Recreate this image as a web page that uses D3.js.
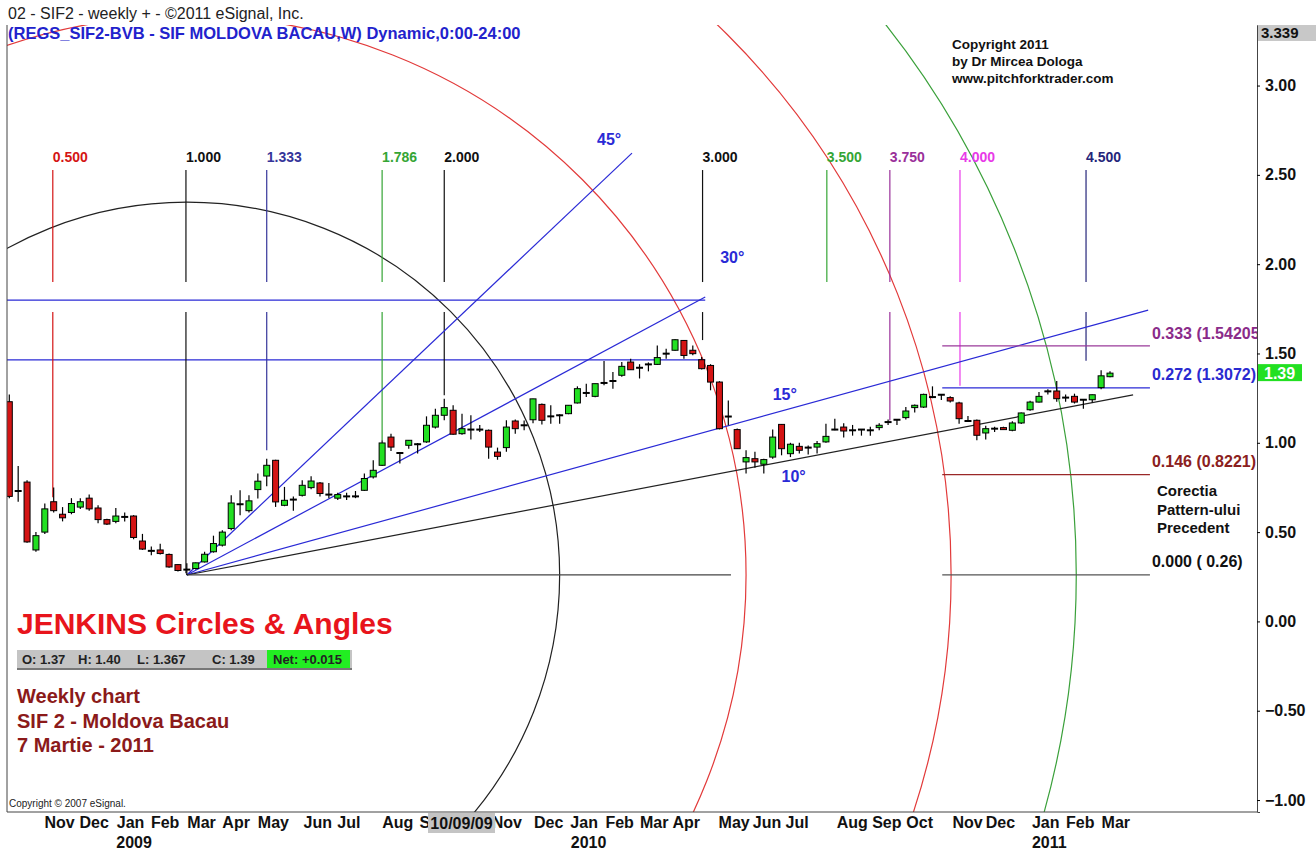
<!DOCTYPE html>
<html>
<head>
<meta charset="utf-8">
<script src="https://d3js.org/d3.v7.min.js"></script>
<style>
  body { margin: 0; background: #fff; }
  svg text { font-family: "Liberation Sans", Arial, sans-serif; }
</style>
</head>
<body>
<svg id="chart" width="1316" height="852"></svg>
<script>
// weekly candles, Sep 2008 .. 7 Mar 2011
const opens  = [1.23,0.73,0.78,0.40,0.50,0.67,0.60,0.61,0.64,0.69,0.635,0.57,0.56,0.585,0.59,0.45,0.395,0.40,0.375,0.318,
                0.29,0.296,0.333,0.39,0.427,0.52,0.656,0.62,0.738,0.814,0.902,0.65,0.682,0.706,0.749,0.775,0.71,0.69,0.70,0.70,
                0.734,0.809,0.874,1.032,0.943,0.986,0.992,1.005,1.088,1.154,1.182,1.051,1.074,1.074,1.07,0.948,0.973,1.122,1.098,1.129,
                1.215,1.148,1.154,1.163,1.223,1.279,1.26,1.335,1.346,1.378,1.452,1.42,1.439,1.439,1.499,1.518,1.573,1.518,1.465,1.433,
                1.34,1.147,1.074,0.893,0.911,0.88,0.92,1.103,0.939,0.98,0.973,0.976,1.005,1.074,1.088,1.07,1.074,1.07,1.085,1.116,
                1.129,1.141,1.197,1.20,1.256,1.269,1.253,1.223,1.122,1.126,1.055,1.079,1.085,1.07,1.111,1.185,1.228,1.288,1.29,1.253,
                1.26,1.241,1.241,1.309,1.37];
const highs  = [1.27,0.87,0.79,0.50,0.66,0.75,0.64,0.69,0.69,0.71,0.65,0.575,0.635,0.61,0.595,0.49,0.42,0.435,0.38,0.32,
                0.325,0.33,0.39,0.48,0.51,0.706,0.734,0.706,0.828,0.911,0.905,0.753,0.70,0.79,0.813,0.78,0.775,0.72,0.72,0.73,
                0.828,0.902,1.014,1.051,0.948,1.014,0.999,1.148,1.191,1.247,1.21,1.163,1.154,1.10,1.075,0.973,1.126,1.13,1.125,1.246,
                1.22,1.21,1.16,1.21,1.316,1.331,1.331,1.458,1.396,1.452,1.471,1.44,1.45,1.545,1.527,1.58,1.575,1.545,1.48,1.44,
                1.345,1.237,1.08,0.958,0.95,0.91,1.074,1.105,1.00,1.00,0.985,1.01,1.107,1.135,1.11,1.10,1.075,1.09,1.11,1.13,
                1.13,1.20,1.215,1.275,1.316,1.27,1.26,1.23,1.15,1.13,1.095,1.09,1.09,1.12,1.17,1.235,1.285,1.30,1.346,1.27,
                1.275,1.245,1.27,1.406,1.40];
const lows   = [0.69,0.67,0.44,0.39,0.49,0.61,0.56,0.60,0.63,0.62,0.55,0.54,0.55,0.56,0.46,0.40,0.37,0.375,0.30,0.28,
                0.26,0.29,0.33,0.385,0.42,0.51,0.594,0.61,0.688,0.757,0.641,0.645,0.62,0.70,0.74,0.70,0.69,0.68,0.68,0.69,
                0.73,0.80,0.87,0.954,0.884,0.967,0.94,1.00,1.08,1.126,1.045,1.045,1.018,1.06,0.911,0.905,0.95,1.05,1.07,1.11,
                1.103,1.107,1.107,1.16,1.22,1.256,1.255,1.322,1.303,1.37,1.409,1.36,1.40,1.435,1.471,1.515,1.471,1.49,1.41,1.294,
                1.075,1.098,0.967,0.828,0.86,0.828,0.91,0.93,0.92,0.94,0.935,0.94,1.00,1.07,1.03,1.04,1.04,1.04,1.07,1.10,
                1.10,1.13,1.17,1.195,1.25,1.24,1.225,1.107,1.12,1.014,1.018,1.06,1.075,1.065,1.105,1.18,1.225,1.27,1.23,1.23,
                1.22,1.19,1.225,1.30,1.367];
const closes = [0.70,0.73,0.445,0.48,0.63,0.62,0.58,0.66,0.67,0.63,0.57,0.545,0.59,0.585,0.47,0.405,0.395,0.38,0.305,0.285,
                0.29,0.328,0.376,0.436,0.50,0.663,0.656,0.675,0.785,0.874,0.669,0.678,0.682,0.762,0.786,0.716,0.71,0.71,0.70,0.70,
                0.80,0.846,0.999,0.976,0.943,1.014,0.992,1.098,1.154,1.197,1.048,1.079,1.074,1.074,0.976,0.924,1.088,1.079,1.098,1.246,
                1.126,1.148,1.154,1.21,1.303,1.279,1.331,1.335,1.346,1.428,1.409,1.42,1.439,1.477,1.499,1.577,1.489,1.499,1.415,1.34,
                1.079,1.147,0.967,0.917,0.893,0.906,1.032,0.967,0.992,0.958,0.973,0.995,1.036,1.074,1.066,1.07,1.074,1.07,1.098,1.116,
                1.129,1.178,1.21,1.271,1.256,1.269,1.234,1.135,1.122,1.042,1.079,1.079,1.08,1.111,1.167,1.228,1.26,1.288,1.247,1.253,
                1.228,1.241,1.269,1.375,1.39];

// x axis labels (week index of each label); Oct 2009 sits under the cursor box
const monthLabels = ["Nov","Dec","Jan","Feb","Mar","Apr","May","Jun","Jul","Aug","Sep","Nov","Dec","Jan","Feb","Mar","Apr",
                     "May","Jun","Jul","Aug","Sep","Oct","Nov","Dec","Jan","Feb","Mar"];
const monthWeeks  = [5.6,9.5,13.6,17.5,21.6,25.5,29.7,34.7,38.2,43.7,47.8,56.0,60.7,64.7,68.7,72.6,76.2,
                     81.6,85.3,88.7,94.9,98.8,102.5,107.9,111.6,116.7,120.6,124.6];
const yearLabels = ["2009","2010","2011"];
const yearWeeks  = [14.0,65.2,117.1];
const priceTicks = [3.0,2.5,2.0,1.5,1.0,0.5,0.0,-0.5,-1.0];

// Jenkins time cycles
const cycleLabels = ["0.500","1.000","1.333","1.786","2.000","3.000","3.500","3.750","4.000","4.500"];
const cycleWeeks  = [4.9,19.9,29.0,42.0,49.0,78.1,92.1,99.2,107.1,121.3];
const cycleBottom = [0.695,0.27,0.958,1.014,1.266,1.575,1.90,1.125,1.32,1.46];
const cycleTop = 2.527;

// angles from the Mar 2009 low
const pivotWeek = 20, pivotPrice = 0.26;
const angleLabels = ["45°","30°","15°","10°"];
const angleEndWeek  = [70.15,78.4,128.3,126.6];
const angleEndPrice = [2.622,1.816,1.743,1.268];
const baseEndWeek = 81.3;

// circles (radius in weeks)
const circleRadius = [42,63,86.1,100.2];

// horizontal lines
const hLinePrices = [1.799,1.464];
const hLineEndWeek = 78.4;
const levelLabels = ["0.333 (1.54205","0.272 (1.3072)","0.146 (0.8221)","0.000 ( 0.26)"];
const levelPrices = [1.54205,1.3072,0.8221,0.26];
const levelFrom = 105.1, levelTo = 128.5;

// ---------------------------------------------------------------
const svg = d3.select('#chart');
const plotL = 7, plotR = 1257, plotT = 25, plotB = 812;

const x = d3.scaleLinear().domain([0, opens.length - 1]).range([9.3, 1110]);
const y = d3.scaleLinear().domain([-1.067, 3.339]).range([plotB, plotT]);

const green = '#22e022', red = '#d41414', blue = '#2a2ad6';
const cycleColors = [red,'#111','#35359a','#35a535','#111','#111','#35a535','#9a309a','#e83ae8','#25257a'];
const circleColors = ['#222', '#e23a3a', '#e23a3a', '#3aa03a'];
const levelColors = ['#9a3a9a', '#2a2ad6', '#9a2828', '#555'];
const levelTextColors = ['#8a2b8a', '#2a2ad0', '#8b2020', '#111'];

svg.append('defs').append('clipPath').attr('id', 'plot')
  .append('rect').attr('x', plotL).attr('y', plotT).attr('width', plotR - plotL).attr('height', plotB - plotT);

const g = svg.append('g').attr('clip-path', 'url(#plot)');

// circles
const px = x(pivotWeek), py = y(pivotPrice);
g.selectAll('.circle').data(circleRadius).join('circle')
  .attr('cx', px).attr('cy', py)
  .attr('r', d => x(pivotWeek + d) - px)
  .attr('fill', 'none')
  .attr('stroke', (d, i) => circleColors[i])
  .attr('stroke-width', 1.2);

// long horizontal blue lines
g.selectAll('.hline').data(hLinePrices).join('line')
  .attr('x1', plotL).attr('x2', x(hLineEndWeek))
  .attr('y1', d => y(d)).attr('y2', d => y(d))
  .attr('stroke', blue).attr('stroke-width', 1.2);

// cycle verticals (broken around the upper blue line)
const gapTop = 1.90, gapBottom = 1.732;
cycleWeeks.forEach((w, i) => {
  const segs = [[cycleTop, Math.max(gapTop, cycleBottom[i])]];
  if (cycleBottom[i] < gapBottom) segs.push([gapBottom, cycleBottom[i]]);
  segs.forEach(s => {
    g.append('line')
      .attr('x1', x(w)).attr('x2', x(w))
      .attr('y1', y(s[0])).attr('y2', y(s[1]))
      .attr('stroke', cycleColors[i]).attr('stroke-width', 1.2);
  });
  svg.append('text')
    .attr('x', x(w)).attr('y', y(cycleTop) - 8)
    .attr('font-size', 14).attr('font-weight', 'bold')
    .attr('fill', cycleColors[i])
    .text(cycleLabels[i]);
});

// angle lines
g.selectAll('.angle').data(angleEndWeek).join('line')
  .attr('x1', px).attr('y1', py)
  .attr('x2', d => x(d)).attr('y2', (d, i) => y(angleEndPrice[i]))
  .attr('stroke', (d, i) => i === 3 ? '#222' : blue)
  .attr('stroke-width', 1.2);
g.append('line')
  .attr('x1', px).attr('y1', py).attr('x2', x(baseEndWeek)).attr('y2', py)
  .attr('stroke', '#444').attr('stroke-width', 1.2);

const angleText = [[-35, -8], [15, -34], [-4, -4], [-1, 1]];
const angleAt = [null, null, 86.0, 87.0];
angleLabels.forEach((t, i) => {
  let tx, ty;
  if (i < 2) { tx = x(angleEndWeek[i]) + angleText[i][0]; ty = y(angleEndPrice[i]) + angleText[i][1]; }
  else {
    const w = angleAt[i];
    const p = pivotPrice + (angleEndPrice[i] - pivotPrice) * (w - pivotWeek) / (angleEndWeek[i] - pivotWeek);
    tx = x(w); ty = y(p) + (i === 2 ? -14 : 20);
  }
  svg.append('text').attr('x', tx).attr('y', ty)
    .attr('font-size', 16).attr('font-weight', 'bold').attr('fill', blue).text(t);
});

// retracement levels on the right
g.selectAll('.level').data(levelPrices).join('line')
  .attr('x1', x(levelFrom)).attr('x2', x(levelTo))
  .attr('y1', d => y(d)).attr('y2', d => y(d))
  .attr('stroke', (d, i) => levelColors[i]).attr('stroke-width', 1.2);
const levelDy = [-7, -8, -8, -8];
levelLabels.forEach((t, i) => {
  g.append('text')
    .attr('x', x(levelTo) + 2).attr('y', y(levelPrices[i]) + levelDy[i])
    .attr('font-size', 16).attr('font-weight', 'bold')
    .attr('fill', levelTextColors[i]).text(t);
});
["Corectia", "Pattern-ului", "Precedent"].forEach((t, i) => {
  svg.append('text').attr('x', 1157).attr('y', 496 + i * 18.5)
    .attr('font-size', 15).attr('font-weight', 'bold').attr('fill', '#111').text(t);
});

// candles
const candles = opens.map((o, i) => ({ i, o, h: highs[i], l: lows[i], c: closes[i] }));
const bw = 6;
g.selectAll('.wick').data(candles).join('line')
  .attr('x1', d => x(d.i)).attr('x2', d => x(d.i))
  .attr('y1', d => y(d.h)).attr('y2', d => y(d.l))
  .attr('stroke', '#000').attr('stroke-width', 1.2);
g.selectAll('.body').data(candles.filter(d => d.o !== d.c)).join('rect')
  .attr('x', d => x(d.i) - bw / 2)
  .attr('y', d => y(Math.max(d.o, d.c)))
  .attr('width', bw)
  .attr('height', d => Math.max(2, Math.abs(y(d.o) - y(d.c))))
  .attr('fill', d => d.c > d.o ? green : red)
  .attr('stroke', '#000').attr('stroke-width', 1);
g.selectAll('.doji').data(candles.filter(d => d.o === d.c)).join('line')
  .attr('x1', d => x(d.i) - bw / 2 - 0.5).attr('x2', d => x(d.i) + bw / 2 + 0.5)
  .attr('y1', d => y(d.o)).attr('y2', d => y(d.o))
  .attr('stroke', '#000').attr('stroke-width', 2);

// frame
svg.append('line').attr('x1', plotL).attr('x2', plotL).attr('y1', plotT).attr('y2', plotB).attr('stroke', '#444');
svg.append('line').attr('x1', plotL).attr('x2', plotR).attr('y1', plotB).attr('y2', plotB).attr('stroke', '#444');

// right price axis
const ay = svg.append('g').attr('transform', `translate(${plotR},0)`)
  .call(d3.axisRight(y).tickValues(priceTicks).tickFormat(d3.format('.2f')).tickSize(3).tickPadding(5));
ay.select('.domain').attr('stroke', '#444');
ay.selectAll('text').attr('font-size', 16).attr('font-weight', 'bold').attr('fill', '#111');

// top value box and last price box
svg.append('rect').attr('x', plotR + 1).attr('y', plotT).attr('width', 58).attr('height', 16).attr('fill', '#c8c8c8');
svg.append('text').attr('x', plotR + 4).attr('y', plotT + 13).attr('font-size', 15).attr('font-weight', 'bold')
  .attr('fill', '#111').text(d3.format('.3f')(y.domain()[1]));
const last = closes[closes.length - 1];
svg.append('rect').attr('x', plotR + 1).attr('y', y(last) - 9).attr('width', 44).attr('height', 17).attr('fill', green);
svg.append('text').attr('x', plotR + 7).attr('y', y(last) + 6).attr('font-size', 16).attr('font-weight', 'bold')
  .attr('fill', '#fff').text(d3.format('.2f')(last));

// bottom axis (labels under the cursor box are cut away by it)
svg.append('defs').append('clipPath').attr('id', 'axisclip')
  .append('path').attr('d', `M0,${plotB}H428V${plotB + 22}H495V${plotB}H1316V852H0Z`);
const axWrap = svg.append('g').attr('clip-path', 'url(#axisclip)');
const ax = axWrap.append('g').attr('transform', `translate(0,${plotB})`)
  .call(d3.axisBottom(x).tickValues(monthWeeks).tickFormat((d, i) => monthLabels[i]).tickSize(0).tickPadding(5));
ax.select('.domain').remove();
ax.selectAll('text').attr('font-size', 16).attr('font-weight', 'bold').attr('fill', '#111');
const ax2 = svg.append('g').attr('transform', `translate(0,${plotB + 20})`)
  .call(d3.axisBottom(x).tickValues(yearWeeks).tickFormat((d, i) => yearLabels[i]).tickSize(0).tickPadding(5));
ax2.select('.domain').remove();
ax2.selectAll('text').attr('font-size', 16).attr('font-weight', 'bold').attr('fill', '#111');

// cursor date box
svg.append('rect').attr('x', 428).attr('y', plotB + 1).attr('width', 67).attr('height', 20).attr('fill', '#c4c4c4');
svg.append('text').attr('x', 461.5).attr('y', plotB + 17).attr('text-anchor', 'middle')
  .attr('font-size', 16).attr('font-weight', 'bold').attr('fill', '#111').text('10/09/09');

// header
svg.append('text').attr('x', 8).attr('y', 19).attr('font-size', 16).attr('fill', '#222')
  .text('02 - SIF2 - weekly + - ©2011 eSignal, Inc.');
svg.append('text').attr('x', 8).attr('y', 39).attr('font-size', 16.5).attr('font-weight', 'bold').attr('fill', '#2222cc')
  .text('(REGS_SIF2-BVB - SIF MOLDOVA BACAU,W) Dynamic,0:00-24:00');

// copyright block
["Copyright 2011", "by Dr Mircea Dologa", "www.pitchforktrader.com"].forEach((t, i) => {
  svg.append('text').attr('x', 952).attr('y', 49 + i * 17).attr('font-size', 13.5).attr('font-weight', 'bold')
    .attr('fill', '#111').text(t);
});

// title block
svg.append('text').attr('x', 17).attr('y', 634).attr('font-size', 30).attr('font-weight', 'bold')
  .attr('fill', '#e8141c').text('JENKINS Circles & Angles');

svg.append('rect').attr('x', 17).attr('y', 650).attr('width', 335).attr('height', 19).attr('fill', '#c4c4c4');
svg.append('line').attr('x1', 17).attr('x2', 352).attr('y1', 669).attr('y2', 669).attr('stroke', '#777').attr('stroke-width', 2);
svg.append('rect').attr('x', 267).attr('y', 650).attr('width', 83).attr('height', 18).attr('fill', '#22ee22');
const ohlcText = [["O: 1.37", 22], ["H: 1.40", 78], ["L: 1.367", 137], ["C: 1.39", 212], ["Net: +0.015", 273]];
ohlcText.forEach(d => {
  svg.append('text').attr('x', d[1]).attr('y', 664).attr('font-size', 13).attr('font-weight', 'bold')
    .attr('fill', '#222').text(d[0]);
});

["Weekly chart", "SIF 2 - Moldova Bacau", "7 Martie - 2011"].forEach((t, i) => {
  svg.append('text').attr('x', 17).attr('y', 703 + i * 24.5).attr('font-size', 20).attr('font-weight', 'bold')
    .attr('fill', '#8b1a1a').text(t);
});

svg.append('text').attr('x', 9).attr('y', 807).attr('font-size', 10).attr('fill', '#222')
  .text('Copyright © 2007 eSignal.');
</script>
</body>
</html>
